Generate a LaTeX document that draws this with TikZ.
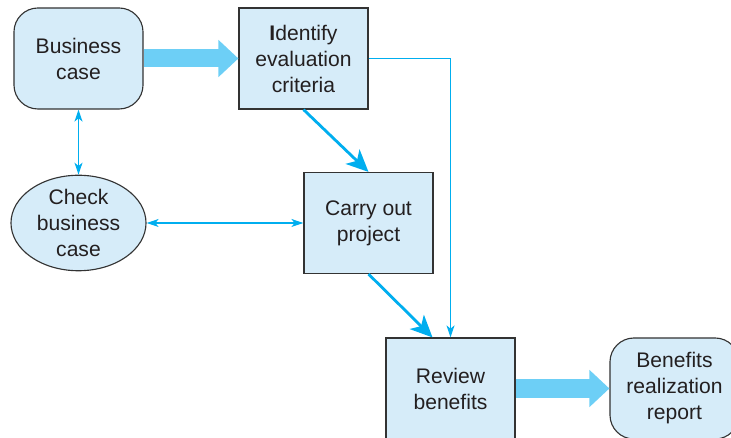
\documentclass[tikz,border=0pt]{standalone}
\usepackage{fontspec}
\setmainfont{Liberation Sans}
\usepackage{tikz}
\usetikzlibrary{arrows,arrows.meta,shapes,positioning}
\usepackage{xcolor}
\definecolor{bxfill}{RGB}{214,236,249}
\definecolor{bxline}{RGB}{51,51,51}
\definecolor{bxtext}{RGB}{35,31,32}
\definecolor{flowcyan}{RGB}{109,207,246}
\definecolor{linkblue}{RGB}{0,174,239}
\tikzstyle{stage} = [rectangle, minimum width=3.225cm, minimum height=2.525cm, text centered, align=center, draw=bxline, fill=bxfill, line width=0.8pt, text=bxtext, font=\fontsize{15}{18.5}\selectfont]
\tikzstyle{doc} = [stage, rounded corners=0.6cm]
\tikzstyle{check} = [stage, ellipse, minimum width=3.375cm, minimum height=2.35cm, inner sep=0pt]
\tikzstyle{bigflow} = [line width=0.45cm, color=flowcyan, -{Triangle[length=0.5cm,width=0.9cm]}]
\tikzstyle{flow} = [line width=2pt, color=linkblue, -{Stealth[length=0.55cm,width=0.5cm,inset=0.15cm]}]
\tikzstyle{link} = [line width=0.8pt, color=linkblue, >={Stealth[length=0.3cm,width=0.2cm,inset=0.08cm]}]

\begin{document}
\begin{tikzpicture}[x=0.025cm, y=-0.025cm]
\clip (0,0) rectangle (731,438);
\useasboundingbox (0,0) rectangle (731,438);

% Business case side
\node[doc] (business) at (78.5,58.5) {Business\\case};
\node[stage] (identify) at (303.5,58.5) {\textbf{I}dentify\\evaluation\\criteria};
\node[check] (checkcase) at (78.5,223) {Check\\business\\case};
\node[stage] (carryout) at (368.5,223) {Carry out\\project};

% Review side
\node[stage] (review) at (450.5,388.5) {Review\\benefits};
\node[doc] (report) at (674.5,388.5) {Benefits\\realization\\report};

% Main flow
\draw[bigflow] (business) -- (identify);
\draw[bigflow] (review) -- (report);
\draw[flow] (identify.south) -- (carryout.north);
\draw[flow] (carryout.south) -- ([xshift=-0.45cm]review.north);
\draw[link, ->] (identify.east) -| (review.north);

% Checking links
\draw[link, <->] (business.south) -- (checkcase.north);
\draw[link, <->] (checkcase.east) -- (carryout.west);
\end{tikzpicture}
\end{document}
